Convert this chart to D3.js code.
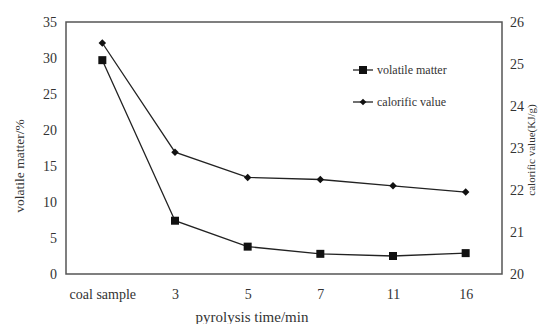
<!DOCTYPE html>
<html>
<head>
<meta charset="utf-8">
<script src="https://cdn.jsdelivr.net/npm/d3@7"></script>
<style>
  body { margin: 0; background: #fff; }
  svg text { font-family: "Liberation Serif", "Times New Roman", "DejaVu Serif", serif; fill: #333; }
</style>
</head>
<body>
<div id="chart"></div>
<script>
// dati
const categories = ["coal sample", "3", "5", "7", "11", "16"];
const volatileMatter = [29.7, 7.4, 3.8, 2.8, 2.5, 2.9];
const calorificValue = [25.5, 22.9, 22.3, 22.25, 22.1, 21.95];
const leftTicks = [0, 5, 10, 15, 20, 25, 30, 35];
const rightTicks = [20, 21, 22, 23, 24, 25, 26];

const width = 539, height = 324;
const margin = { top: 22, right: 37, bottom: 50, left: 66 };
const serif = '"Liberation Serif", "Times New Roman", "DejaVu Serif", serif';

const svg = d3.select("#chart")
    .append("svg")
    .attr("width", width)
    .attr("height", height);

const x = d3.scalePoint()
    .domain(categories)
    .range([margin.left, width - margin.right])
    .padding(0.5);

const yLeft = d3.scaleLinear()
    .domain([0, 35])
    .range([height - margin.bottom, margin.top]);

const yRight = d3.scaleLinear()
    .domain([20, 26])
    .range([height - margin.bottom, margin.top]);

// cornice
svg.append("rect")
    .attr("x", margin.left)
    .attr("y", margin.top)
    .attr("width", width - margin.left - margin.right)
    .attr("height", height - margin.top - margin.bottom)
    .attr("fill", "none")
    .attr("stroke", "#555")
    .attr("stroke-width", 1.5);

// asse sinistro
const axisL = svg.append("g")
    .attr("transform", `translate(${margin.left},0)`)
    .call(d3.axisLeft(yLeft).tickValues(leftTicks).tickSize(0).tickPadding(9));
axisL.select(".domain").remove();

// asse destro
const axisR = svg.append("g")
    .attr("transform", `translate(${width - margin.right},0)`)
    .call(d3.axisRight(yRight).tickValues(rightTicks).tickFormat(d3.format("d")).tickSize(0).tickPadding(8));
axisR.select(".domain").remove();

// asse x
const axisB = svg.append("g")
    .attr("transform", `translate(0,${height - margin.bottom})`)
    .call(d3.axisBottom(x).tickSize(0).tickPadding(15));
axisB.select(".domain").remove();

svg.selectAll("g").attr("font-family", serif);
svg.selectAll(".tick text")
    .style("font-size", "14px")
    .style("fill", "#333");

// titoli assi
svg.append("text")
    .attr("x", 252)
    .attr("y", 322)
    .attr("text-anchor", "middle")
    .style("font-size", "15px")
    .text("pyrolysis time/min");

svg.append("text")
    .attr("transform", "translate(24,166) rotate(-90)")
    .attr("text-anchor", "middle")
    .style("font-size", "13.5px")
    .text("volatile matter/%");

svg.append("text")
    .attr("transform", "translate(535,150) rotate(-90)")
    .attr("text-anchor", "middle")
    .style("font-size", "11px")
    .text("calorific value(KJ/g)");

// linee
const lineL = d3.line().x((d, i) => x(categories[i])).y(d => yLeft(d));
const lineR = d3.line().x((d, i) => x(categories[i])).y(d => yRight(d));

svg.append("path")
    .attr("d", lineL(volatileMatter))
    .attr("fill", "none")
    .attr("stroke", "#222")
    .attr("stroke-width", 1.3);

svg.append("path")
    .attr("d", lineR(calorificValue))
    .attr("fill", "none")
    .attr("stroke", "#222")
    .attr("stroke-width", 1.3);

svg.selectAll(".sq")
    .data(volatileMatter)
    .join("rect")
    .attr("class", "sq")
    .attr("x", (d, i) => x(categories[i]) - 4)
    .attr("y", d => yLeft(d) - 4)
    .attr("width", 8)
    .attr("height", 8)
    .attr("fill", "#111");

svg.selectAll(".dm")
    .data(calorificValue)
    .join("path")
    .attr("class", "dm")
    .attr("transform", (d, i) => `translate(${x(categories[i])},${yRight(d)}) rotate(45)`)
    .attr("d", d3.symbol(d3.symbolSquare, 28)())
    .attr("fill", "#111");

// legenda
const legend = [
    { label: "volatile matter", y: 70, shape: "sq" },
    { label: "calorific value", y: 102, shape: "dm" }
];
legend.forEach(l => {
    svg.append("line")
        .attr("x1", 353).attr("x2", 373)
        .attr("y1", l.y).attr("y2", l.y)
        .attr("stroke", "#222").attr("stroke-width", 1.3);
    if (l.shape === "sq") {
        svg.append("rect")
            .attr("x", 359).attr("y", l.y - 4)
            .attr("width", 8).attr("height", 8)
            .attr("fill", "#111");
    } else {
        svg.append("path")
            .attr("transform", `translate(363,${l.y}) rotate(45)`)
            .attr("d", d3.symbol(d3.symbolSquare, 22)())
            .attr("fill", "#111");
    }
    svg.append("text")
        .attr("x", 377)
        .attr("y", l.y)
        .attr("dy", "0.35em")
        .style("font-size", "12px")
        .text(l.label);
});
</script>
</body>
</html>
